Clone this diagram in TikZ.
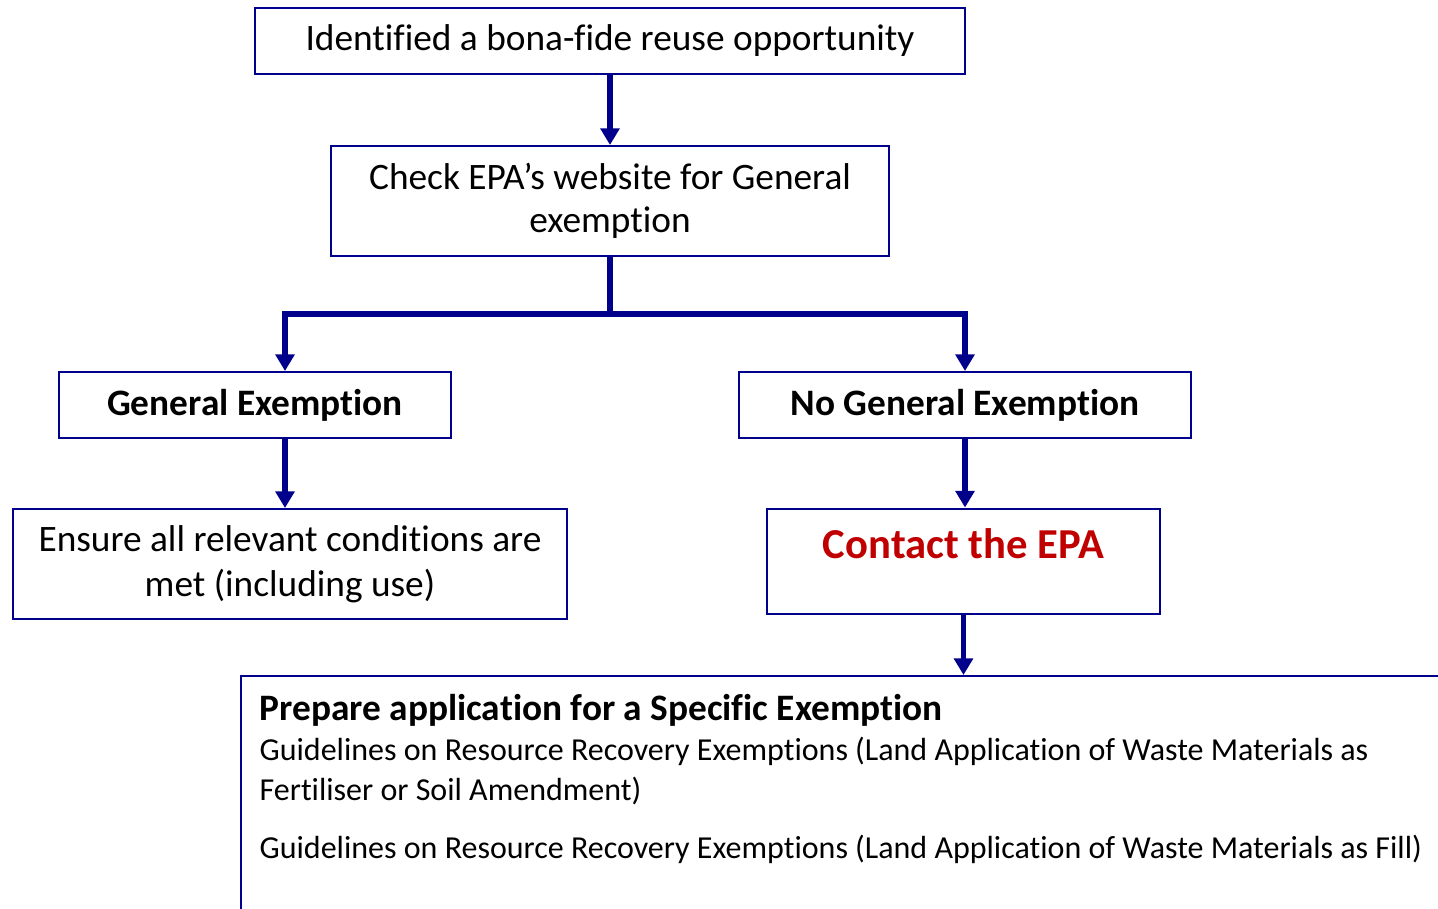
\documentclass[tikz,border=0pt]{standalone}
\usepackage{fontspec}
\setmainfont{Carlito}[Ligatures=CommonOff]
\usetikzlibrary{arrows.meta}
\definecolor{epablue}{RGB}{0,0,139}
\definecolor{epared}{RGB}{192,0,0}

\begin{document}
\begin{tikzpicture}[x=0.75pt, y=-0.75pt,
    box/.style={rectangle, draw=epablue, line width=1.5pt, align=center,
      font=\fontsize{28}{33}\selectfont, inner sep=0pt},
    boldbox/.style={box, font=\fontsize{28}{33}\selectfont\bfseries},
    flow/.style={draw=epablue, line width=4.3pt,
      -{Triangle[width=14pt, length=12.5pt]}},
    bar/.style={draw=epablue, line width=4.3pt}
    ]
\useasboundingbox (0,0) rectangle (1438,909);
\clip (0,0) rectangle (1438,909);

\node[box, minimum width=532.5pt, minimum height=49.5pt] (idea) at (610,41)
  {Identified a bona-fide reuse opportunity};
\node[box, minimum width=418.5pt, minimum height=82.5pt] (check) at (610,201)
  {Check EPA's website for General\\[-1pt]exemption};
\node[boldbox, minimum width=294pt, minimum height=49.5pt] (general) at (255,405)
  {General Exemption};
\node[boldbox, minimum width=339pt, minimum height=49.5pt] (nogeneral) at (965,405)
  {No General Exemption};
\node[box, minimum width=415.5pt, minimum height=82.5pt,
  font=\fontsize{28}{34}\selectfont] (ensure) at (290,564)
  {Ensure all relevant conditions are\\met (including use)};
\node[box, minimum width=294.75pt, minimum height=78.75pt, text=epared,
  font=\fontsize{32}{33}\selectfont\bfseries] (contact) at (963.5,561)
  {Contact the EPA\\[-16pt]\strut};
\node[box, anchor=north west, align=left, inner xsep=14pt, inner ysep=14pt]
  (prep) at (240,675)
  {\begin{minipage}[t][200pt][t]{900pt}\raggedright
   {\fontsize{28}{31.5}\selectfont\bfseries Prepare application for a Specific Exemption}\\[0pt]
   \fontsize{24}{30}\selectfont
   Guidelines on Resource Recovery Exemptions (Land Application of Waste Materials as\\
   Fertiliser or Soil Amendment)\\[13pt]
   Guidelines on Resource Recovery Exemptions (Land Application of Waste Materials as Fill)
   \end{minipage}};

\coordinate (split) at (610,314);
\draw[flow] (idea) -- (check);
\draw[bar] (check) -- (split);
\draw[flow] (split) -| ([xshift=22.5pt]general.north);
\draw[flow] (split) -| (nogeneral.north);
\draw[flow] ([xshift=22.5pt]general.south) -- ([xshift=22.5pt]general.south |- ensure.north);
\draw[flow] (nogeneral) -- (nogeneral.south |- contact.north);
\draw[flow] (contact.south) -- (contact.south |- prep.north);
\end{tikzpicture}
\end{document}
